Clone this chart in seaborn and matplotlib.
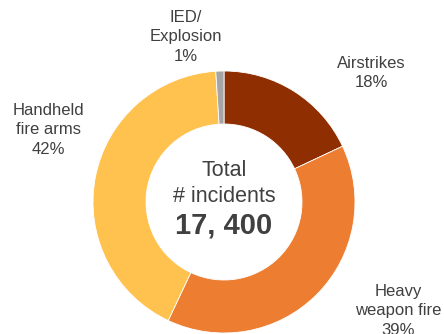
import matplotlib.pyplot as plt
import seaborn as sns

# data
categories = ["Airstrikes", "Heavy\nweapon fire", "Handheld\nfire arms", "IED/\nExplosion"]
shares = [18, 39, 42, 1]
total_incidents = "17, 400"

colors = ["#8F2E00", "#ED7D31", "#FFC24F", "#A5A5A5"]
text_color = "#404040"

sns.set_theme(style="white")
plt.rcParams["font.family"] = ["Liberation Sans", "DejaVu Sans"]

fig = plt.figure(figsize=(4.44, 3.34), dpi=100)
ax = fig.add_axes([0, 0, 1, 1])

# donut, starting at the top and going clockwise
ax.pie(shares, colors=colors, startangle=90, counterclock=False,
       center=(224, 132), radius=131, frame=True,
       wedgeprops=dict(width=53, edgecolor="white", linewidth=0.6))
ax.set_xlim(0, 444)
ax.set_ylim(0, 334)
ax.set_aspect("equal")
ax.axis("off")

# labels (position in pixels, y from bottom)
label_pos = [(371, 261), (398, 23), (48, 204), (186, 297)]
for name, val, (x, y) in zip(categories, shares, label_pos):
    ax.text(x, y, f"{name}\n{val}%", ha="center", va="center",
            fontsize=12, color=text_color, linespacing=1.35)

# centre text
ax.text(224, 163, "Total", ha="center", va="center", fontsize=15.5, color=text_color)
ax.text(224, 138, "# incidents", ha="center", va="center", fontsize=15.5, color=text_color)
ax.text(224, 109, total_incidents, ha="center", va="center", fontsize=21,
        fontweight="bold", color=text_color)

fig.savefig("out.png", dpi=100)
